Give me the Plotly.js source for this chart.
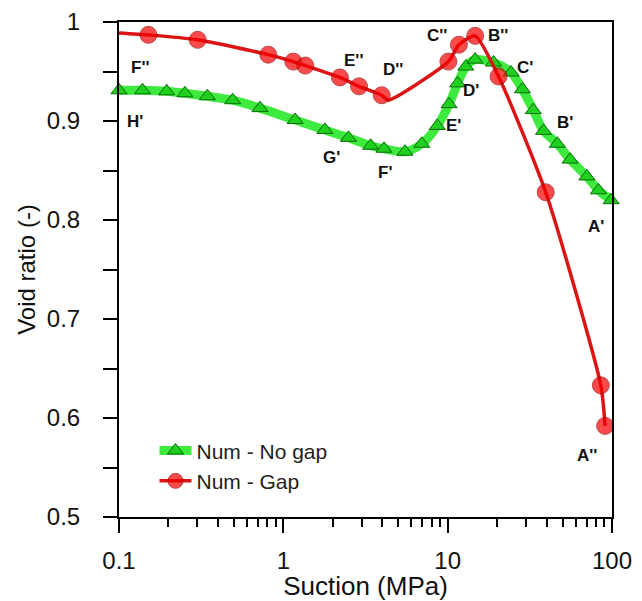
<!DOCTYPE html>
<html>
<head>
<meta charset="utf-8">
<script src="https://cdn.plot.ly/plotly-3.0.1.min.js"></script>
<style>html,body{margin:0;padding:0;background:#fff;}#chart{width:642px;height:601px;}</style>
</head>
<body>
<div id="chart"></div>
<script>
// Num - No gap (green)
const noGapSuction = [0.1, 0.139, 0.195, 0.252, 0.345, 0.492, 0.721, 1.18, 1.79, 2.49, 3.40, 4.10, 5.5, 6.96, 8.65, 10.2, 11.5, 12.9, 14.7, 19.0, 24.3, 28.5, 33.2, 38.3, 46.5, 55.6, 70.3, 82.7, 98.8];
const noGapVoid    = [0.931, 0.931, 0.930, 0.928, 0.925, 0.921, 0.913, 0.901, 0.891, 0.883, 0.875, 0.872, 0.869, 0.877, 0.895, 0.917, 0.938, 0.955, 0.962, 0.959, 0.949, 0.932, 0.911, 0.890, 0.877, 0.861, 0.844, 0.830, 0.820];
// Num - Gap (red); vertices without a drawn marker flagged in gapMarker
const gapSuction = [0.1, 0.151, 0.301, 0.81, 1.15, 1.36, 2.21, 2.89, 3.97, 4.34, 10.1, 11.7, 14.7, 20.4, 39.5, 85.5, 90.8];
const gapVoid    = [0.989, 0.987, 0.982, 0.967, 0.960, 0.956, 0.944, 0.935, 0.926, 0.921, 0.960, 0.977, 0.986, 0.945, 0.828, 0.633, 0.592];
const gapMarker  = [0, 1, 1, 1, 1, 1, 1, 1, 1, 0, 1, 1, 1, 1, 1, 1, 1];
// Point labels
const labelText = ["F''", "H'", "G'", "F'", "E''", "D''", "C''", "B''", "C'", "D'", "E'", "B'", "A'", "A''"];
const labelPx   = [[140,67],[135,122],[331,157],[385,173],[353,61],[393,70],[437,36],[498,36],[525,67],[471,90],[453,125],[565,123],[596,226],[587,455]];

const L = 119, R = 612, T = 22, B = 517;
const font = "Liberation Sans, Arial, sans-serif";

const traces = [
  {
    x: noGapSuction, y: noGapVoid, name: 'Num - No gap', type: 'scatter', mode: 'lines+markers',
    line: {color: '#3dea3d', width: 9, shape: 'spline', smoothing: 0.8},
    marker: {symbol: 'triangle-up', size: 14, color: '#1fd01f', line: {color: '#0a6a0a', width: 1}},
    cliponaxis: false
  },
  {
    x: gapSuction, y: gapVoid, name: 'Num - Gap', type: 'scatter', mode: 'lines+markers',
    line: {color: '#dd1414', width: 3.5, shape: 'spline', smoothing: 0.6},
    marker: {symbol: 'circle', size: gapMarker.map(v => v ? 17 : 0), color: '#f40000', line: {color: '#a00000', width: 1}},
    cliponaxis: false
  }
];

const annotations = labelText.map((t, i) => ({
  text: t, xref: 'paper', yref: 'paper',
  x: (labelPx[i][0] - L) / (R - L), y: (B - labelPx[i][1]) / (B - T),
  xanchor: 'center', yanchor: 'middle', showarrow: false,
  font: {family: font, size: 17, color: '#111', weight: 'bold'}
}));

const layout = {
  width: 642, height: 601,
  margin: {l: L, r: 642 - R, t: T, b: 601 - B},
  paper_bgcolor: '#fff', plot_bgcolor: '#fff',
  showlegend: true,
  legend: {x: 0.072, y: 0.175, xanchor: 'left', yanchor: 'top', bgcolor: 'rgba(0,0,0,0)',
           font: {family: font, size: 21, color: '#222'}, itemwidth: 32, tracegroupgap: 0},
  xaxis: {
    type: 'log', range: [-1, 2], showgrid: false, zeroline: false,
    showline: true, linecolor: '#000', linewidth: 2, mirror: true,
    ticks: 'outside', ticklen: 14, tickwidth: 2, tickcolor: '#000',
    tickvals: [0.1, 1, 10, 100], ticktext: ['0.1', '1', '10', '100'],
    tickfont: {family: font, size: 24, color: '#111'}, ticklabelstandoff: 7,
    minor: {tickmode: 'array', tickvals: [0.2,0.3,0.4,0.5,0.6,0.7,0.8,0.9,2,3,4,5,6,7,8,9,20,30,40,50,60,70,80,90],
            ticks: 'outside', ticklen: 8, tickwidth: 2, tickcolor: '#000', showgrid: false},
    title: {text: 'Suction (MPa)', font: {family: font, size: 26, color: '#111'}, standoff: 9}
  },
  yaxis: {
    range: [0.5, 1], showgrid: false, zeroline: false,
    showline: true, linecolor: '#000', linewidth: 2, mirror: true,
    ticks: 'outside', ticklen: 14, tickwidth: 2, tickcolor: '#000',
    tickvals: [0.5, 0.6, 0.7, 0.8, 0.9, 1], ticktext: ['0.5', '0.6', '0.7', '0.8', '0.9', '1'],
    tickfont: {family: font, size: 24, color: '#111'}, ticklabelstandoff: 18,
    minor: {tickmode: 'array', tickvals: [0.55, 0.65, 0.75, 0.85, 0.95],
            ticks: 'outside', ticklen: 14, tickwidth: 2, tickcolor: '#000', showgrid: false},
    title: {text: 'Void ratio (-)', font: {family: font, size: 24, color: '#111'}, standoff: 4}
  },
  annotations: annotations
};

Plotly.newPlot('chart', traces, layout, {displayModeBar: false, staticPlot: true});
</script>
</body>
</html>
